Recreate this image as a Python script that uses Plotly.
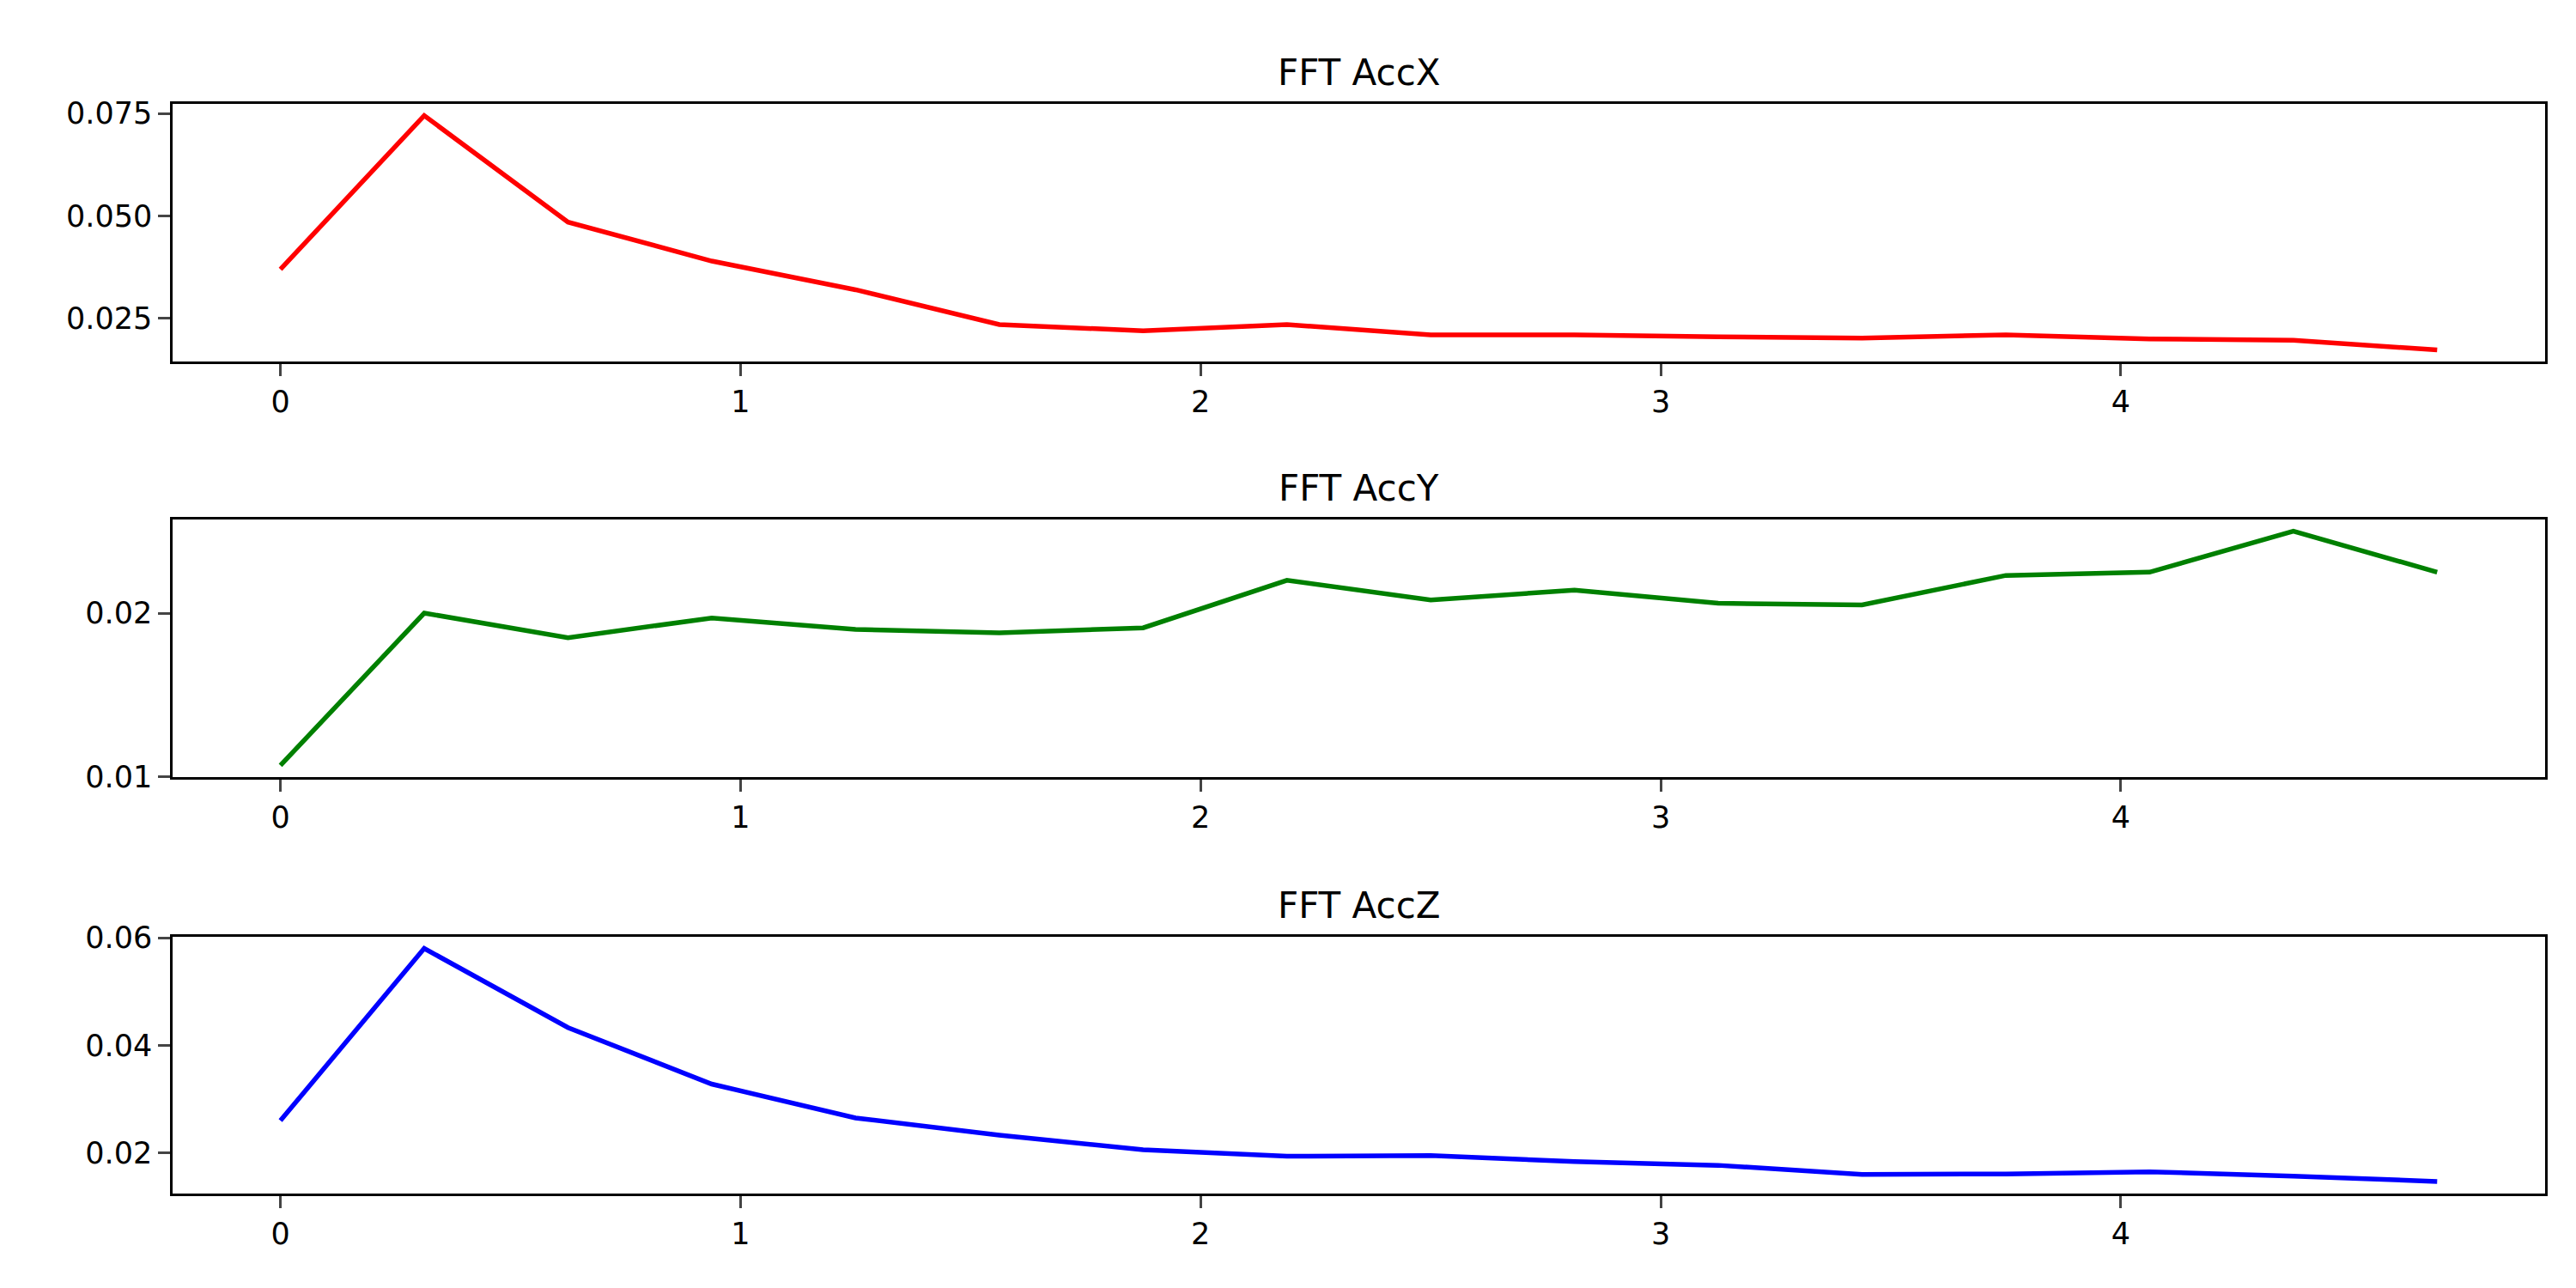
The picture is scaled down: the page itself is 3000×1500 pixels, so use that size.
import plotly.graph_objects as go
from plotly.subplots import make_subplots

freq = [k * 0.3125 for k in range(16)]
acc_x = [0.037, 0.0745, 0.0485, 0.039, 0.032, 0.0235, 0.022, 0.0235, 0.021, 0.021, 0.0205, 0.0202, 0.021, 0.020, 0.0197, 0.0173]
acc_y = [0.0107, 0.0200, 0.0185, 0.0197, 0.0190, 0.0188, 0.0191, 0.0220, 0.0208, 0.0214, 0.0206, 0.0205, 0.0223, 0.0225, 0.0250, 0.0225]
acc_z = [0.026, 0.058, 0.0433, 0.0328, 0.0265, 0.0233, 0.0206, 0.0194, 0.0195, 0.0184, 0.0177, 0.0160, 0.0161, 0.0165, 0.0157, 0.0147]
titles = ["FFT AccX", "FFT AccY", "FFT AccZ"]
colors = ["red", "green", "blue"]
series = [acc_x, acc_y, acc_z]
yticks = [[0.025, 0.050, 0.075], [0.01, 0.02], [0.02, 0.04, 0.06]]
ytext = [["0.025", "0.050", "0.075"], ["0.01", "0.02"], ["0.02", "0.04", "0.06"]]

fig = make_subplots(rows=3, cols=1)
domains = [(0.7245, 0.9247), (0.402, 0.602), (0.079, 0.278)]
font = dict(family="DejaVu Sans", size=35, color="black")
for i in range(3):
    fig.add_trace(go.Scatter(x=freq, y=series[i], mode="lines",
                             line=dict(color=colors[i], width=5.5), showlegend=False), row=i + 1, col=1)
    lo, hi = min(series[i]), max(series[i])
    m = (hi - lo) * 0.05
    ax = "" if i == 0 else str(i + 1)
    fig.layout["xaxis" + ax].update(domain=[0.0644, 0.9853], range=[-0.234, 4.9219], automargin=False,
        tickvals=[0, 1, 2, 3, 4], ticks="outside", ticklen=14, tickwidth=3, showgrid=False, zeroline=False,
        showline=True, linecolor="black", linewidth=3, mirror=True, tickfont=font)
    fig.layout["yaxis" + ax].update(domain=list(domains[i]), range=[lo - m, hi + m], automargin=False,
        tickvals=yticks[i], ticktext=ytext[i], ticks="outside", ticklen=14, tickwidth=3, showgrid=False,
        zeroline=False, showline=True, linecolor="black", linewidth=3, mirror=True, tickfont=font)
    fig.add_annotation(text=titles[i], xref="paper", yref="paper", x=0.5249, y=domains[i][1],
                       yanchor="bottom", yshift=10, showarrow=False,
                       font=dict(family="DejaVu Sans", size=42, color="black"))

fig.update_layout(width=3000, height=1500, plot_bgcolor="white", paper_bgcolor="white",
                  margin=dict(l=0, r=0, t=0, b=0))
fig.write_html("out.html")
